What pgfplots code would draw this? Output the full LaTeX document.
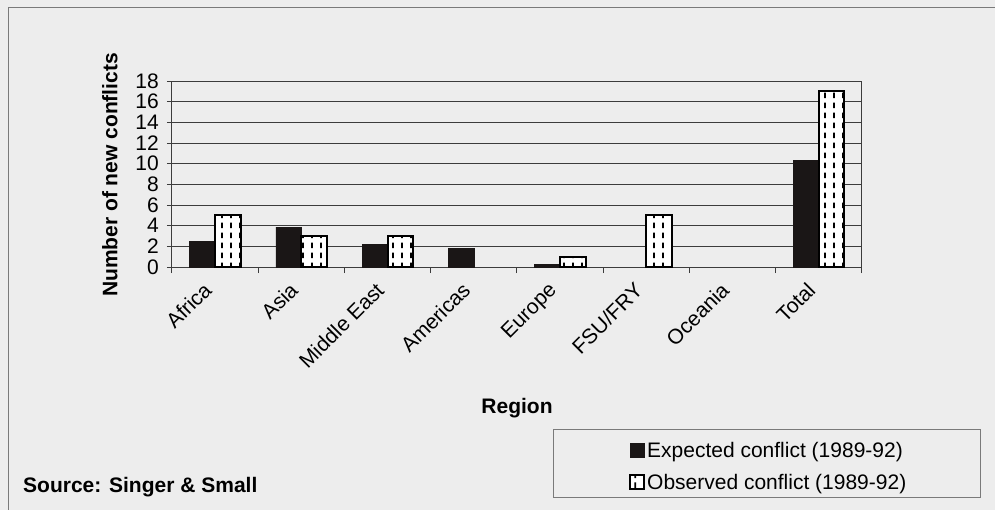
\documentclass[border=0pt]{standalone}
\usepackage{pgfplots}
\pgfplotsset{compat=1.18}
\usepackage{fontspec}
\setmainfont{Liberation Sans}
\usetikzlibrary{patterns}

\definecolor{pagebg}{HTML}{EDEDED}
\definecolor{gridc}{HTML}{3C3C3C}
\definecolor{framec}{HTML}{7A7A7A}
\definecolor{barblack}{HTML}{1A1616}

% short vertical dashes in columns, for the observed series
% (tile width = one tenth of a category, so every bar shows the same columns)
\pgfdeclarepatternformonly{vdashes}{\pgfpointorigin}{\pgfpoint{8.625bp}{10bp}}{\pgfpoint{8.625bp}{10bp}}{
  \pgfsetlinewidth{1.7bp}
  \pgfpathmoveto{\pgfpoint{6.2bp}{2bp}}
  \pgfpathlineto{\pgfpoint{6.2bp}{8bp}}
  \pgfusepath{stroke}
}

\newcommand{\fs}{\fontsize{21bp}{25bp}\selectfont}

\begin{document}
\begin{tikzpicture}
  % page background and frame (axis box spans (0,0)--(690bp,186bp))
  \fill[pagebg] (-172bp,-243bp) rectangle (823bp,267bp);
  \useasboundingbox (-172bp,-243bp) rectangle (823bp,267bp);
  \draw[framec, line width=1.2bp] (-163.5bp,-243bp) -- (-163.5bp,259.5bp) -- (823bp,259.5bp);

  \begin{axis}[
    at={(0,0)}, anchor=south west,
    scale only axis, width=690bp, height=186bp,
    ybar=0pt, bar width=25.5bp,
    xmin=-0.5, xmax=7.5, ymin=0, ymax=18,
    xtick={0,...,7},
    xticklabels={Africa,Asia,Middle East,Americas,Europe,FSU/FRY,Oceania,Total},
    major x tick style={draw=none},
    minor xtick={-0.5,0.5,...,7.5},
    ytick={0,2,...,18},
    ymajorgrids,
    grid style={gridc, line width=0.9bp},
    axis line style={gridc, line width=1bp},
    every tick/.style={gridc, line width=1bp},
    tick align=outside, tick pos=left,
    major tick length=5bp, minor tick length=6bp,
    /pgf/number format/assume math mode=true,
    tick label style={font=\fs},
    xticklabel style={xshift=-13bp, yshift=-6bp, rotate=45, anchor=north east, inner sep=2bp},
    yticklabel style={inner sep=2bp, xshift=-6bp},
    ylabel={\bfseries Number of new conflicts},
    every axis y label/.style={at={(axis description cs:-0.0899,0.495)}, rotate=90, anchor=center, font=\fs},
    xlabel={\bfseries Region},
    every axis x label/.style={at={(axis description cs:0.5,-0.758)}, anchor=center, font=\fs},
    legend style={at={(axis description cs:0.6623,-0.930)}, anchor=north west,
      draw=none, fill=none, inner sep=0pt, font=\fs, row sep=11bp,
      nodes={inner sep=2bp}},
    legend cell align=left,
    legend image code/.code={\draw[#1, bar width=0pt, bar shift=0pt] (0bp,-7bp) rectangle (14bp,7bp);},
  ]
    \addplot[draw=barblack, fill=barblack] coordinates {
      (0,2.5) (1,3.85) (2,2.2) (3,1.8) (4,0.25) (7,10.3)};
    \addlegendentry{Expected conflict (1989-92)}
    \addplot[draw=black, line width=2bp, fill=white, postaction={pattern=vdashes, pattern color=black}] coordinates {
      (0,5) (1,3) (2,3) (4,1) (5,5) (7,17)};
    \addlegendentry{Observed conflict (1989-92)}
  \end{axis}

  % legend frame and source note
  \draw[framec, line width=1bp] (381bp,-162bp) rectangle (808bp,-230bp);
  \node[anchor=base west, font=\fs\bfseries, inner sep=0pt] at (-149bp,-225bp) {Source: Singer \& Small};
\end{tikzpicture}
\end{document}
